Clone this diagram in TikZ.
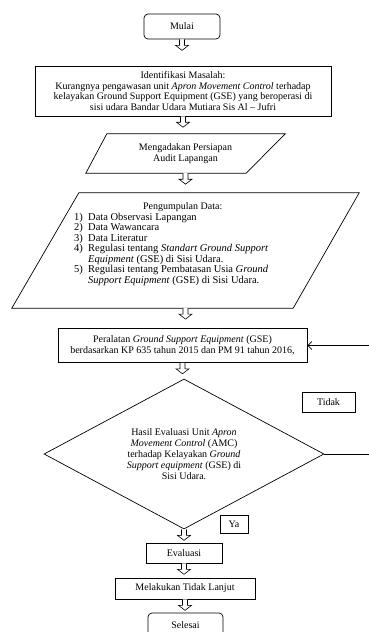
\documentclass[tikz,border=0pt]{standalone}
\usepackage{fontspec}
\setmainfont{Liberation Serif}
\usetikzlibrary{shapes.geometric,arrows.meta,calc}
\newcommand{\blockarrow}[2]{%
  \draw[barrow] let \p1=(#1.south), \p2=($(#1.south)!11pt!(#2.north)$) in
   (\x1-2.5pt,\y1) -- (\x1-2.5pt,\y2+5pt) -- (\x1-6.5pt,\y2+5pt) -- (\x1,\y2)
   -- (\x1+6.5pt,\y2+5pt) -- (\x1+2.5pt,\y2+5pt) -- (\x1+2.5pt,\y1);}
\begin{document}
\begin{tikzpicture}[x=1pt,y=-1pt,
  every node/.style={font=\fontsize{10}{10.8}\selectfont, text=black},
  box/.style={draw=black, line width=0.7pt, fill=white, inner sep=0pt, align=center},
  term/.style={box, rounded corners=4pt},
  shapebox/.style={inner sep=0pt, align=center},
  outl/.style={draw=black, line width=0.7pt, line join=miter},
  dec/.style={draw=black, line width=0.7pt, diamond, aspect=1.87, inner sep=0pt, align=center},
  barrow/.style={draw=black, line width=0.6pt, fill=white, line join=miter},
  fbline/.style={draw=black, line width=0.7pt, -{Straight Barb[length=4pt,width=8pt]}}
]
\useasboundingbox (0,0) rectangle (369,632);
\fill[white] (0,0) rectangle (369,632);

\node[term, minimum width=76pt, minimum height=25pt] (mulai) at (182,26.5) {Mulai};

\node[box, minimum width=296pt, minimum height=50pt] (ident) at (183,91)
 {Identifikasi Masalah:\\ Kurangnya pengawasan unit \textit{Apron Movement Control} terhadap\\ kelayakan Ground Support Equipment (GSE) yang beroperasi di\\ sisi udara Bandar Udara Mutiara Sis Al -- Jufri};

\node[shapebox, minimum width=199pt, minimum height=39pt] (p1) at (185.5,153.5)
 {Mengadakan Persiapan\\ Audit Lapangan};
\draw[outl] ($(p1.north west)+(21,0)$) -- (p1.north east) -- ($(p1.south east)+(-39,0)$) -- (p1.south west) -- cycle;

\node[shapebox, minimum width=347pt, minimum height=115pt] (p2) at (185.5,250.5) {};
\draw[outl] ($(p2.north west)+(67,0)$) -- (p2.north east) -- ($(p2.south east)+(-66,0)$) -- (p2.south west) -- cycle;
\node[anchor=north west, inner sep=0pt, font=\fontsize{10.5}{10.5}\selectfont] (p2t) at (74,202)
 {\begin{tabular}{@{}p{14pt}@{}p{200pt}@{}}
 \multicolumn{2}{@{}c@{}}{\hspace{3pt}\fontsize{10}{10.5}\selectfont Pengumpulan Data:}\\
 1) & Data Observasi Lapangan\\
 2) & Data Wawancara\\
 3) & Data Literatur\\
 4) & Regulasi tentang \textit{Standart Ground Support}\newline \textit{Equipment} (GSE) di Sisi Udara.\\
 5) & Regulasi tentang Pembatasan Usia \textit{Ground}\newline \textit{Support Equipment} (GSE) di Sisi Udara.
 \end{tabular}};

\node[box, minimum width=249pt, minimum height=34pt] (per) at (182.5,345.5)
 {Peralatan \textit{Ground Support Equipment} (GSE)\\ berdasarkan KP 635 tahun 2015 dan PM 91 tahun 2016,};

\node[dec, minimum width=280pt, minimum height=150pt] (dia) at (184,454)
 {Hasil Evaluasi Unit \textit{Apron}\\ \textit{Movement Control} (AMC)\\ terhadap Kelayakan \textit{Ground}\\ \textit{Support equipment} (GSE) di\\ Sisi Udara.};

\node[box, minimum width=53pt, minimum height=20pt] (tidak) at (328.5,402) {Tidak};
\node[box, minimum width=28pt, minimum height=18pt] (ya) at (234,524) {Ya};

\node[box, minimum width=76pt, minimum height=20pt] (eval) at (184,553) {Evaluasi};
\node[box, minimum width=140pt, minimum height=21pt] (tl) at (185,588.5) {Melakukan Tidak Lanjut};
\node[term, minimum width=75pt, minimum height=25pt] (selesai) at (185.5,625.5) {Selesai};

\blockarrow{mulai}{ident}
\blockarrow{ident}{p1}
\blockarrow{p1}{p2}
\blockarrow{p2}{per}
\blockarrow{per}{dia}
\blockarrow{dia}{eval}
\blockarrow{eval}{tl}
\blockarrow{tl}{selesai}

\coordinate (fb) at (376,454);
\draw[fbline] (dia.east) -- (dia.east -| fb) |- (per.east);
\end{tikzpicture}
\end{document}
